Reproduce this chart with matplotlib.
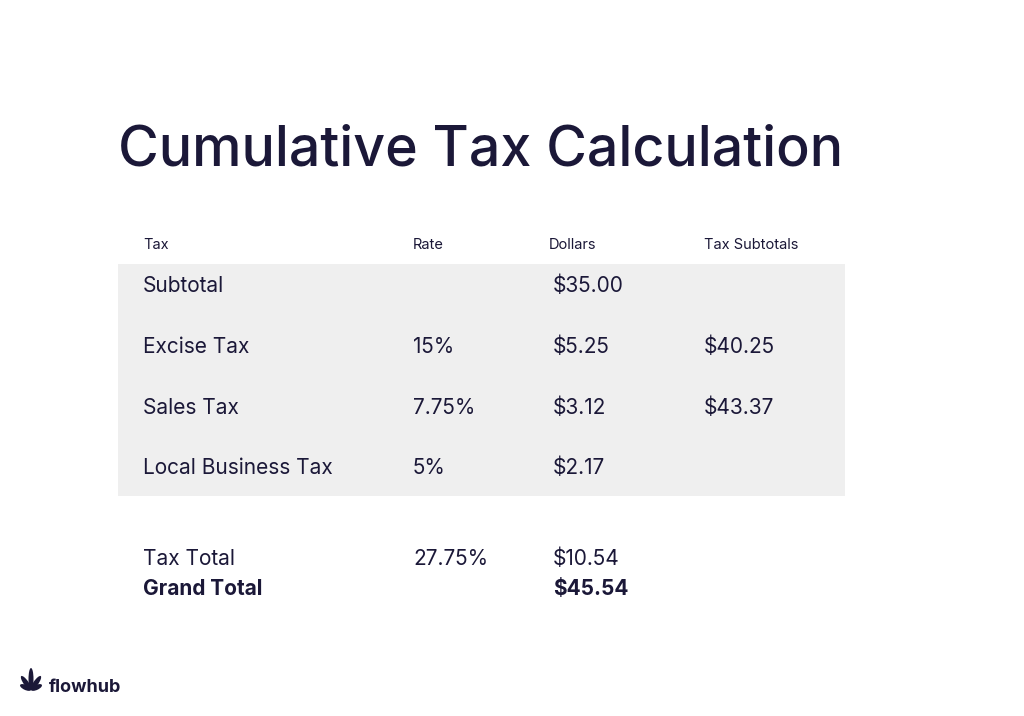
import matplotlib
matplotlib.use("Agg")
import matplotlib.pyplot as plt
from matplotlib.patches import Rectangle, Ellipse

title = "Cumulative Tax Calculation"
headers = ["Tax", "Rate", "Dollars", "Tax Subtotals"]
taxes = ["Subtotal", "Excise Tax", "Sales Tax", "Local Business Tax"]
rates = ["", "15%", "7.75%", "5%"]
dollars = ["$35.00", "$5.25", "$3.12", "$2.17"]
subtotals = ["", "$40.25", "$43.37", ""]
total_label, total_rate, total_dollars = "Tax Total", "27.75%", "$10.54"
grand_label, grand_dollars = "Grand Total", "$45.54"

W, H = 1024, 716
fig = plt.figure(figsize=(W/100, H/100), dpi=100)
fig.patch.set_facecolor("white")
ax = fig.add_axes([0, 0, 1, 1])
ax.set_xlim(0, W); ax.set_ylim(H, 0); ax.axis("off")
C = "#1b1838"
F = "Inter"

ax.text(118, 150, title, fontsize=40, color=C, family=F, fontweight="medium", va="center")
cols = [143, 413, 549, 704]
for x, h in zip(cols, headers):
    ax.text(x, 245, h, fontsize=10.5, color=C, family=F, va="center")
ax.add_patch(Rectangle((118, 264), 727, 232, color="#efefef", lw=0))
ys = [286, 347, 408, 468]
for i, y in enumerate(ys):
    for x, v in zip(cols, [taxes[i], rates[i], dollars[i], subtotals[i]]):
        xx = x + 4 if x == 549 else x
        ax.text(xx, y, v, fontsize=15, color=C, family=F, va="center")
ax.text(143, 559, total_label, fontsize=15, color=C, family=F, va="center")
ax.text(413, 559, total_rate, fontsize=15, color=C, family=F, va="center")
ax.text(553, 559, total_dollars, fontsize=15, color=C, family=F, va="center")
ax.text(143, 589, grand_label, fontsize=15, color=C, family=F, va="center", fontweight="bold")
ax.text(553, 589, grand_dollars, fontsize=15, color=C, family=F, va="center", fontweight="bold")

# logo leaf
for ang, ln in [(90, 22), (55, 17), (125, 17), (25, 12), (155, 12)]:
    import math
    cx = 31 + math.cos(math.radians(ang)) * ln / 2
    cy = 690 - math.sin(math.radians(ang)) * ln / 2
    ax.add_patch(Ellipse((cx, cy), ln, 5, angle=-ang, color=C, lw=0))
ax.text(49, 688, "flowhub", fontsize=13, color=C, family=F, fontweight="bold", va="center")

fig.savefig("out.png", dpi=100)
